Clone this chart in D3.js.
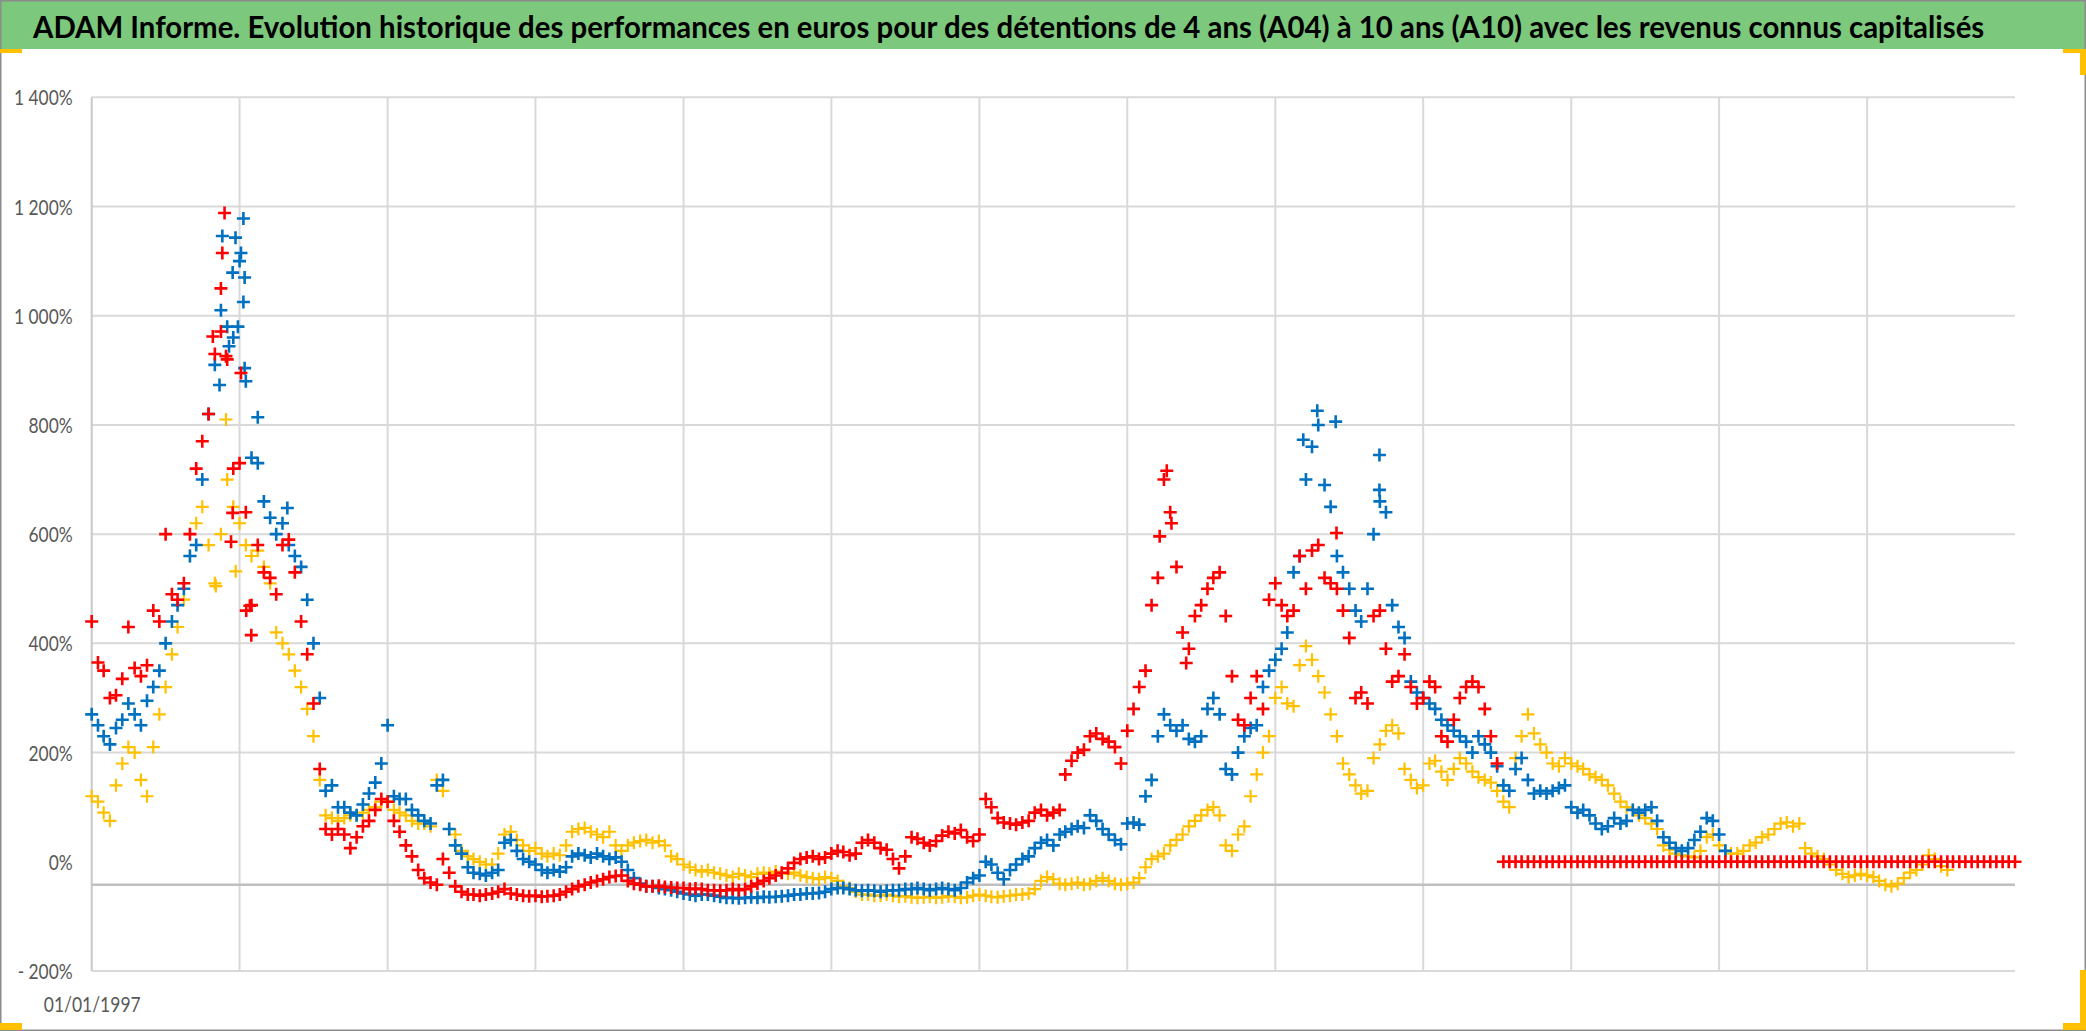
<!DOCTYPE html>
<html>
<head>
<meta charset="utf-8">
<script src="https://cdn.jsdelivr.net/npm/d3@7"></script>
<style>
  html, body { margin: 0; padding: 0; background: #fff; }
  svg { display: block; }
  .lbl { font-family: Lato, "Open Sans", "DejaVu Sans", sans-serif; }
</style>
</head>
<body>
<svg id="chart" width="2086" height="1031"></svg>
<script>
// ---------------- DATA ----------------
const titleText = "ADAM Informe. Evolution historique des performances en euros pour des détentions de 4 ans (A04) à 10 ans (A10) avec les revenus connus capitalisés";

// monthly observation dates, Jan 1997 .. Jan 2023
const months = d3.timeMonth.range(new Date(1997, 0, 1), new Date(2023, 1, 1));

// A10 (red) – performance in %, one value per month (zero-filled after early 2016)
const a10 = [
  440,365,350,300,305,335,430,355,340,360,460,440,
  600,490,480,510,600,720,770,820,930,1050,920,720,
  730,640,470,580,530,520,490,580,590,530,440,380,
  290,170,60,50,60,50,25,45,65,75,95,115,
  110,75,55,30,10,-15,-30,-38,-42,5,-20,-45,
  -55,-60,-60,-62,-60,-58,-55,-50,-58,-60,-62,-63,
  -62,-64,-63,-62,-60,-55,-50,-45,-42,-38,-35,-32,
  -28,-26,-25,-35,-40,-42,-45,-45,-44,-46,-47,-48,
  -48,-50,-49,-50,-52,-52,-53,-52,-50,-52,-50,-45,
  -40,-35,-30,-25,-20,-12,-2,5,8,10,5,8,
  15,20,18,12,15,35,40,35,25,22,5,-12,
  10,45,42,35,30,38,48,55,52,58,45,38,
  50,115,100,80,72,70,68,72,75,90,95,85,
  90,95,160,185,200,205,230,235,225,220,210,180,
  240,280,320,350,470,520,700,640,540,420,390,450,
  470,500,520,530,450,340,260,250,300,340,280,480,
  510,470,450,460,560,500,570,580,520,510,500,460,
  410,300,310,290,450,460,390,330,340,380,320,290,
  300,330,320,230,220,260,300,320,330,320,280,230,
  180,0,0,0,0,0,0,0,0,0,0,0,
  0,0,0,0,0,0,0,0,0,0,0,0,
  0,0,0,0,0,0,0,0,0,0,0,0,
  0,0,0,0,0,0,0,0,0,0,0,0,
  0,0,0,0,0,0,0,0,0,0,0,0,
  0,0,0,0,0,0,0,0,0,0,0,0,
  0,0,0,0,0,0,0,0,0,0,0,0,
  0
];

// A07 (blue)
const a07 = [
  270,250,230,215,245,260,290,270,250,295,320,350,
  400,440,470,500,560,580,700,820,910,1010,980,960,
  1100,880,740,730,660,630,600,620,580,560,540,480,
  400,300,130,140,100,100,90,85,105,125,145,180,
  250,120,115,115,95,85,75,70,140,150,60,30,
  15,-10,-20,-22,-25,-20,-15,35,40,20,5,0,
  -5,-15,-20,-15,-18,-10,10,15,12,8,15,10,
  5,8,0,-15,-30,-40,-45,-45,-48,-50,-52,-55,
  -58,-60,-62,-60,-60,-62,-64,-66,-66,-67,-66,-65,
  -66,-64,-65,-64,-63,-62,-60,-60,-58,-58,-57,-55,
  -50,-48,-48,-50,-52,-53,-52,-53,-55,-53,-52,-52,
  -50,-50,-48,-50,-52,-50,-48,-50,-52,-48,-38,-30,
  -25,0,-5,-20,-32,-15,-5,5,10,25,35,40,
  30,50,55,60,65,62,85,75,60,50,40,32,
  70,72,68,120,150,230,270,250,240,250,225,220,
  230,280,300,270,170,160,200,230,245,250,320,350,
  370,390,420,530,560,700,760,800,690,650,560,530,
  500,460,440,500,600,660,640,470,430,410,330,310,
  300,290,280,260,250,240,230,220,200,230,215,200,
  175,140,130,170,190,150,125,130,125,130,135,140,
  100,90,95,85,70,60,65,80,70,75,95,90,
  95,100,75,45,35,25,20,25,40,55,80,75,
  50,20
];

// A04 (yellow)
const a04 = [
  120,110,90,75,140,180,210,200,150,120,210,270,
  320,380,430,480,560,620,650,580,510,600,700,650,
  620,580,560,570,540,510,420,400,380,350,320,280,
  230,150,85,80,75,80,85,85,90,95,100,110,
  110,95,90,85,75,70,70,65,150,130,60,50,
  20,10,5,0,-5,-5,15,50,55,40,30,20,
  25,15,10,15,12,30,55,60,62,55,50,45,
  55,30,20,30,35,38,40,35,38,30,10,5,
  -5,-10,-15,-18,-15,-20,-22,-25,-28,-22,-25,-28,
  -22,-20,-22,-18,-20,-22,-20,-25,-28,-30,-32,-28,
  -30,-35,-45,-48,-55,-60,-60,-62,-62,-60,-62,-64,
  -63,-65,-66,-65,-64,-66,-65,-63,-64,-66,-65,-62,
  -60,-62,-64,-65,-63,-62,-60,-60,-58,-50,-35,-28,
  -32,-40,-42,-40,-38,-42,-40,-35,-30,-35,-40,-42,
  -40,-38,-30,-10,5,10,15,30,40,50,65,75,
  85,95,100,85,30,20,50,65,120,160,200,230,
  300,320,290,285,360,395,370,340,310,270,230,180,
  160,140,125,130,190,215,240,250,235,170,150,135,
  140,180,185,165,150,170,190,180,165,155,150,145,
  130,110,100,190,230,270,235,215,200,180,175,190,
  180,175,170,160,155,150,140,125,110,100,95,85,
  80,70,60,30,22,15,12,10,8,20,45,50,
  30,20,15,15,20,30,35,45,50,60,70,72,
  65,70,25,15,10,5,-5,-15,-22,-28,-25,-22,
  -25,-28,-35,-42,-45,-40,-30,-20,-15,-5,12,5,
  -8,-15
];

// isolated points (date, %)
const a10Extra = [["1998-10-19", 1188], ["1998-10-08", 1115], ["1998-10-01", 971], ["2011-07-15", 716],
                  ["1999-02-03", 460], ["1999-02-28", 415], ["1999-02-21", 469], ["1998-11-28", 639],
                  ["1998-11-20", 586], ["1998-10-26", 926], ["1998-08-22", 962], ["1999-01-08", 895],
                  ["2011-08-07", 620], ["2011-06-10", 596], ["2011-10-19", 364], ["2013-10-30", 602]];
const a07Extra = [["1999-01-20", 1178], ["1998-10-08", 1146], ["1998-12-12", 1143], ["1999-01-08", 1115],
                  ["1998-11-28", 1079], ["1999-01-26", 1070], ["1999-01-20", 1025], ["1999-01-26", 904],
                  ["2013-07-27", 826], ["2013-10-26", 806], ["2014-05-30", 745],
                  ["1998-09-24", 873], ["1998-11-10", 944], ["1998-12-24", 980], ["1999-04-01", 814],
                  ["1999-08-25", 648], ["2014-05-30", 681], ["2013-05-19", 773]];
const a04Extra = [["1998-10-26", 810], ["1998-09-06", 505], ["1998-12-13", 532]];

const yTickValues = [-200, 0, 200, 400, 600, 800, 1000, 1200, 1400];
const yTickLabels = ["- 200%", "0%", "200%", "400%", "600%", "800%", "1 000%", "1 200%", "1 400%"];
const gridYears = [1999, 2001, 2003, 2005, 2007, 2009, 2011, 2013, 2015, 2017, 2019, 2021];
const xTickLabels = ["01/01/1997"];
const axisCrossValue = -42; // horizontal axis line position (value)

// ---------------- LAYOUT ----------------
const W = 2086, H = 1031;
const plot = { left: 91.7, right: 2015, top: 97.3, bottom: 971 };
const parse = d3.timeParse("%Y-%m-%d");

const svg = d3.select("#chart");
svg.append("rect").attr("x", 0).attr("y", 0).attr("width", W).attr("height", H).attr("fill", "#ffffff");

// title bar
svg.append("rect").attr("x", 0).attr("y", 0).attr("width", W).attr("height", 49).attr("fill", "#7cc87c");
const title = svg.append("text")
  .attr("class", "lbl")
  .attr("x", 0).attr("y", 0)
  .attr("font-size", 31).attr("font-weight", "bold").attr("fill", "#000")
  .text(titleText);
{
  const w = title.node().getComputedTextLength();
  title.attr("transform", `translate(33,38) scale(${1952 / w},1)`);
}

// scales
const x = d3.scaleTime()
  .domain([months[0], months[months.length - 1]])
  .range([plot.left, plot.right]);
const y = d3.scaleLinear().domain([-200, 1400]).range([plot.bottom, plot.top]);

// gridlines
const grid = svg.append("g");
grid.selectAll("line.h")
  .data(yTickValues.filter(v => v !== 0))
  .join("line")
  .attr("x1", plot.left).attr("x2", plot.right)
  .attr("y1", d => y(d)).attr("y2", d => y(d))
  .attr("stroke", "#d9d9d9").attr("stroke-width", 2);

grid.selectAll("line.v")
  .data(gridYears.map(yr => new Date(yr, 0, 1)))
  .join("line")
  .attr("x1", d => x(d)).attr("x2", d => x(d))
  .attr("y1", plot.top).attr("y2", plot.bottom)
  .attr("stroke", "#d9d9d9").attr("stroke-width", 2);

// vertical axis line
grid.append("line")
  .attr("x1", plot.left).attr("x2", plot.left)
  .attr("y1", plot.top).attr("y2", plot.bottom)
  .attr("stroke", "#c8c8c8").attr("stroke-width", 2);

// horizontal axis line
grid.append("line")
  .attr("x1", plot.left).attr("x2", plot.right)
  .attr("y1", y(axisCrossValue)).attr("y2", y(axisCrossValue))
  .attr("stroke", "#bfbfbf").attr("stroke-width", 2.5);

// y axis labels
const yAxis = d3.axisLeft(y)
  .tickValues(yTickValues)
  .tickFormat((d, i) => yTickLabels[i])
  .tickSize(0).tickPadding(19);
const gy = svg.append("g").attr("transform", `translate(${plot.left},0)`).call(yAxis);
gy.select(".domain").remove();
const yTexts = gy.selectAll("text")
  .attr("class", "lbl")
  .attr("font-size", 21).attr("fill", "#595959")
  .attr("dy", "0.36em");
{
  const ref = yTexts.filter((d, i) => i === yTickLabels.length - 1).node().getComputedTextLength();
  const f = 58.7 / ref;
  yTexts.attr("x", 0).attr("transform", `translate(-19,0) scale(${f},1)`);
}

// x axis label
const gx = svg.append("g").attr("transform", `translate(0,${plot.bottom})`)
  .call(d3.axisBottom(x).tickValues([months[0]]).tickFormat((d, i) => xTickLabels[i]).tickSize(0).tickPadding(0));
gx.select(".domain").remove();
const xText = gx.selectAll("text").attr("class", "lbl").attr("font-size", 21).attr("fill", "#595959")
  .attr("y", 0).attr("dy", 0);
{
  const w = xText.node().getComputedTextLength();
  xText.attr("transform", `translate(0,41) scale(${97 / w},1)`);
}

// series (drawn yellow, blue, red)
const series = [
  { name: "A04", values: a04, extra: a04Extra, color: "#ffc000", sw: 2.2 },
  { name: "A07", values: a07, extra: a07Extra, color: "#0070c0", sw: 2.6 },
  { name: "A10", values: a10, extra: a10Extra, color: "#ff0000", sw: 2.6 }
];
const half = 6.5;
series.forEach(s => {
  const pts = s.values.map((v, i) => ({ date: months[i], v }))
    .concat(s.extra.map(e => ({ date: parse(e[0]), v: e[1] })));
  svg.append("g").attr("class", "series-" + s.name)
    .selectAll("path")
    .data(pts)
    .join("path")
    .attr("d", d => {
      const px = x(d.date), py = y(d.v);
      return `M${px - half},${py}H${px + half}M${px},${py - half}V${py + half}`;
    })
    .attr("stroke", s.color)
    .attr("stroke-width", s.sw)
    .attr("fill", "none");
});

// outer frame
svg.append("rect").attr("x", 0.75).attr("y", 0.75).attr("width", W - 1.5).attr("height", H - 1.5)
  .attr("fill", "none").attr("stroke", "#8c8c8c").attr("stroke-width", 1.5);

// yellow corner marks
const marks = [
  [0, 49, 22, 4],
  [0, 1023, 22, 7],
  [2063, 49, 23, 4], [2080, 49, 6, 26],
  [2063, 1023, 23, 7], [2080, 970, 6, 60]
];
svg.append("g").selectAll("rect").data(marks).join("rect")
  .attr("x", d => d[0]).attr("y", d => d[1]).attr("width", d => d[2]).attr("height", d => d[3])
  .attr("fill", "#ffc000");
</script>
</body>
</html>
